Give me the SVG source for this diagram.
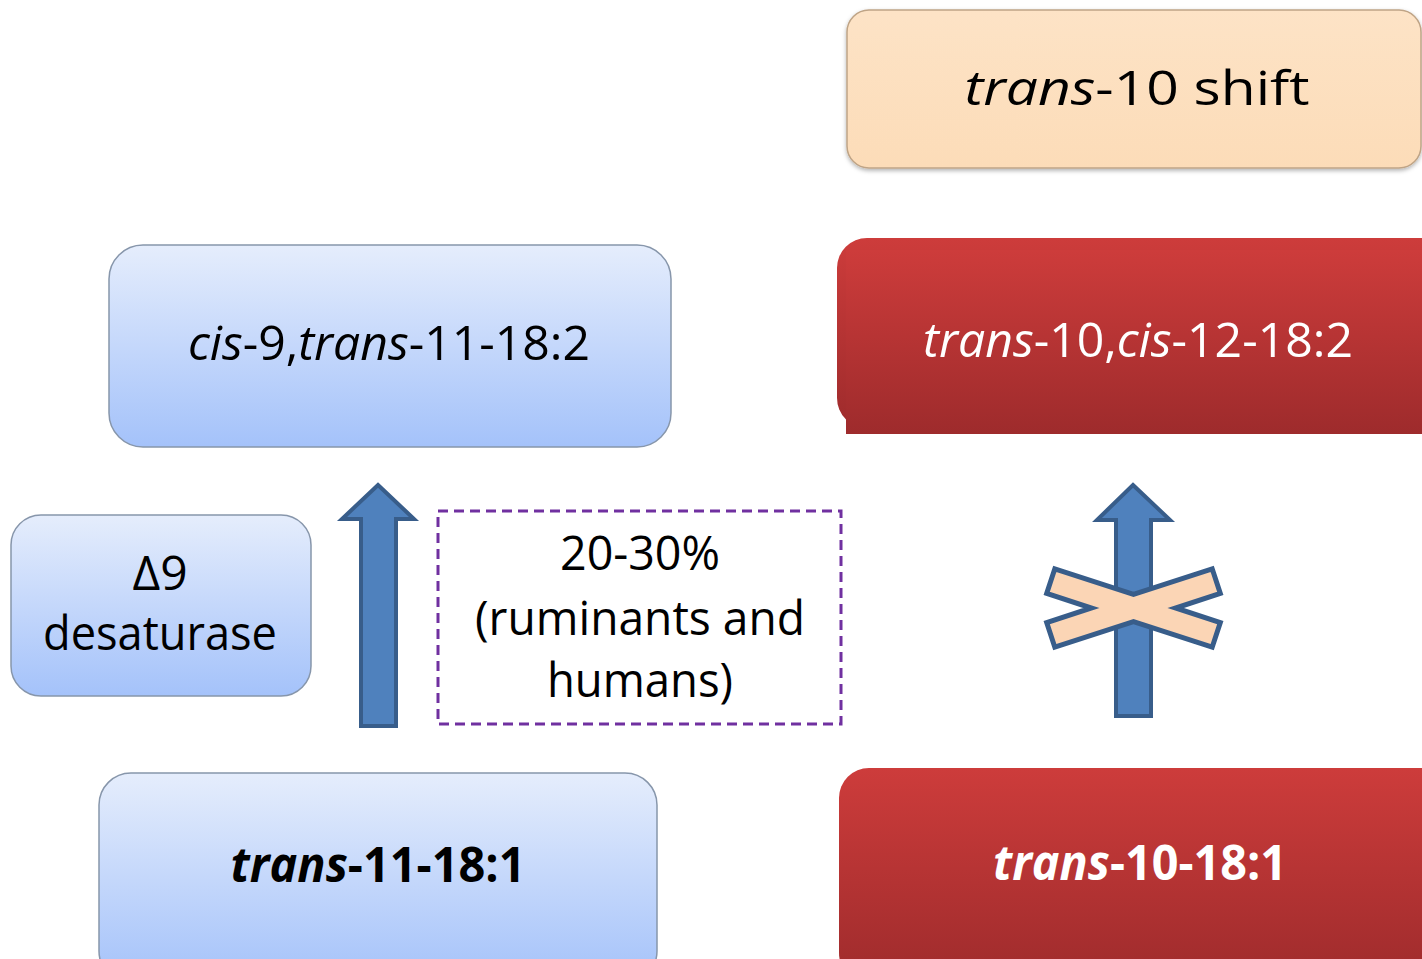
<svg xmlns="http://www.w3.org/2000/svg" width="1422" height="959" viewBox="0 0 1422 959">
<defs>
<linearGradient id="gBlue" x1="0" y1="0" x2="0" y2="1"><stop offset="0" stop-color="#e5edfc"/><stop offset="1" stop-color="#a4c2fa"/></linearGradient>
<linearGradient id="gRed" x1="0" y1="0" x2="0" y2="1"><stop offset="0" stop-color="#cd3c3b"/><stop offset="1" stop-color="#9e2b2c"/></linearGradient>
<linearGradient id="gPeach" x1="0" y1="0" x2="0" y2="1"><stop offset="0" stop-color="#fde3c6"/><stop offset="1" stop-color="#fcdcb8"/></linearGradient>
<filter id="sh" x="-5%" y="-5%" width="110%" height="115%"><feDropShadow dx="0" dy="2" stdDeviation="2" flood-color="#000" flood-opacity="0.3"/></filter>
</defs>
<style>
.blue{fill:url(#gBlue);stroke:#8796ab;stroke-width:1.5}
.red{fill:url(#gRed)}
.peach{fill:url(#gPeach);stroke:#bfa486;stroke-width:1.5}
.t{font-family:"Open Sans","Noto Sans",sans-serif;font-size:48px;text-anchor:middle;fill:#000}
.w{fill:#fff}
.b{font-weight:bold}
.i{font-style:italic}
.arrow{fill:#4f81bd;stroke:#385d8a;stroke-width:4;stroke-linejoin:miter}
.cross{fill:#fbd5b5;stroke:#385d8a;stroke-width:5;stroke-linejoin:miter}
.dash{fill:#fff;stroke:#7030a0;stroke-width:3;stroke-dasharray:10 6}
</style>
<rect width="1422" height="959" fill="#fff"/>

<g id="node-trans10shift">
<rect class="peach" x="847" y="10" width="574" height="158" rx="22" filter="url(#sh)"/>
<text class="t" x="1137" y="105" font-size="54" textLength="345" lengthAdjust="spacingAndGlyphs"><tspan class="i">trans</tspan>-10 shift</text>
</g>

<g id="node-t10c12">
<rect class="red" x="837" y="238" width="640" height="190" rx="30"/>
<rect class="red" x="846" y="250" width="620" height="184"/>
<text class="t w" x="1138" y="357" textLength="430" lengthAdjust="spacingAndGlyphs"><tspan class="i">trans</tspan>-10,<tspan class="i">cis</tspan>-12-18:2</text>
</g>

<g id="node-c9t11">
<rect class="blue" x="109" y="245" width="562" height="202" rx="34"/>
<text class="t" x="389" y="360" textLength="402" lengthAdjust="spacingAndGlyphs"><tspan class="i">cis</tspan>-9,<tspan class="i">trans</tspan>-11-18:2</text>
</g>

<g id="node-desaturase">
<rect class="blue" x="11" y="515" width="300" height="181" rx="30"/>
<text class="t" x="160" y="590">Δ9</text>
<text class="t" x="160" y="650" textLength="234" lengthAdjust="spacingAndGlyphs">desaturase</text>
</g>

<g id="node-percent">
<rect class="dash" x="438" y="511" width="403" height="213"/>
<text class="t" x="640" y="570" textLength="160" lengthAdjust="spacingAndGlyphs">20-30%</text>
<text class="t" x="640" y="635" textLength="330" lengthAdjust="spacingAndGlyphs">(ruminants and</text>
<text class="t" x="640" y="697" textLength="186" lengthAdjust="spacingAndGlyphs">humans)</text>
</g>

<g id="node-t11">
<rect class="blue" x="99" y="773" width="558" height="210" rx="32"/>
<text class="t b" x="378" y="882" textLength="295" lengthAdjust="spacingAndGlyphs"><tspan class="i">trans</tspan>-11-18:1</text>
</g>

<g id="node-t10">
<rect class="red" x="839" y="768" width="640" height="215" rx="30"/>
<text class="t w b" x="1140" y="880" textLength="294" lengthAdjust="spacingAndGlyphs"><tspan class="i">trans</tspan>-10-18:1</text>
</g>

<g id="connectors">
<polygon class="arrow" points="378,485 414,519 396,519 396,726 361,726 361,519 342,519"/>
<polygon class="arrow" points="1133,485 1170,520 1151,520 1151,716 1116,716 1116,520 1097,520"/>
<polygon class="cross" points="1133.5,594.3 1212.2,568.8 1220.3,593.5 1175.6,608 1220.3,622.5 1212.2,647.2 1133.5,621.7 1054.8,647.2 1046.7,622.5 1091.4,608 1046.7,593.5 1054.8,568.8"/>
</g>
</svg>
